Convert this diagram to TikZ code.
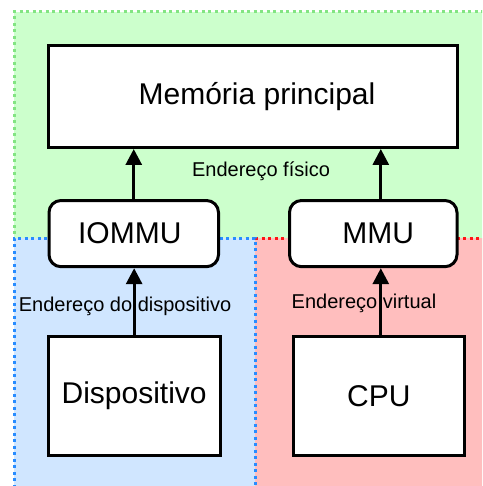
\documentclass[tikz,border=0pt]{standalone}
\usepackage{fontspec}
\setmainfont{Liberation Sans}
\usetikzlibrary{arrows.meta}
\definecolor{physfill}{RGB}{204,255,204}
\definecolor{physline}{RGB}{130,228,130}
\definecolor{devfill}{RGB}{208,230,255}
\definecolor{devline}{RGB}{40,140,255}
\definecolor{cpufill}{RGB}{255,190,190}
\definecolor{cpuline}{RGB}{255,20,20}
\begin{document}
\begin{tikzpicture}[x=1pt,y=-1pt,
  box/.style={draw=black, line width=3pt, fill=white, rectangle, inner sep=0pt,
    font=\fontsize{30}{36}\selectfont},
  rbox/.style={box, rounded corners=12pt},
  arr/.style={line width=3pt, -{Triangle[length=16pt,width=16pt]}},
  lbl/.style={font=\fontsize{20}{24}\selectfont, inner sep=0pt, anchor=base},
  zone/.style={line width=3pt, dash pattern=on 3pt off 3.5pt}]
\useasboundingbox (0,0) rectangle (482,486);
\clip (0,0) rectangle (482,486);

% address-space zones
\fill[physfill] (14,12) rectangle (520,260);
\draw[physline, zone] (14,520) -- (14,12) -- (520,12);
\fill[cpufill] (255,238) rectangle (520,520);
\draw[cpuline, zone] (255,238) -- (520,238);
\fill[devfill] (14,238) rectangle (255,520);
\draw[devline, zone] (14,520) -- (14,238) -- (255,238) -- (255,520);

% blocks (the leading space nudges the text a little to the right)
\node[box, minimum width=409pt, minimum height=101.5pt] (mem) at (252.5,96.75) {\hspace*{9pt}Memória principal};
\node[rbox, minimum width=169.5pt, minimum height=66.2pt] (iommu) at (133.75,233.6) {IOMMU\hspace*{8pt}};
\node[rbox, minimum width=167.5pt, minimum height=66.2pt] (mmu) at (373.25,233.6) {\hspace*{10pt}MMU};
\node[box, minimum width=171.7pt, minimum height=118.5pt] (disp) at (134.15,395.75) {Dispositivo};
\node[box, minimum width=171pt, minimum height=118.5pt] (cpu) at (378.8,395.75) {CPU};

% address paths
\draw[arr] (disp.north) -- (disp.north |- iommu.south);
\draw[arr] (iommu.north) -- (iommu.north |- mem.south);
\draw[arr] ([xshift=2pt]cpu.north) -- ([xshift=2pt]cpu.north |- mmu.south);
\draw[arr] ([xshift=2pt]cpu.north |- mmu.north) -- ([xshift=2pt]cpu.north |- mem.south);

% labels
\node[lbl] (lphys) at (261,177) {Endereço físico};
\node[lbl] (ldev) at (125,311) {Endereço do dispositivo};
\node[lbl] (lvirt) at (364,308) {Endereço virtual};
\end{tikzpicture}
\end{document}
